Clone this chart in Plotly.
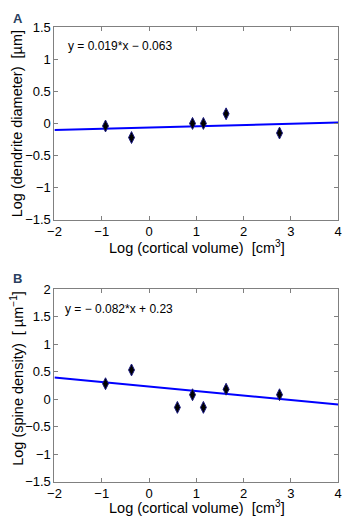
import plotly.graph_objects as go

# Panel A data
xa = [-0.92, -0.37, 0.92, 1.15, 1.63, 2.76]
ya = [-0.04, -0.22, 0.0, 0.0, 0.15, -0.15]
slope_a, icpt_a = 0.019, -0.063

# Panel B data
xb = [-0.92, -0.37, 0.6, 0.92, 1.15, 1.63, 2.76]
yb = [0.28, 0.53, -0.15, 0.08, -0.15, 0.18, 0.08]
slope_b, icpt_b = -0.082, 0.23

xfit = [-2, 4]

W, H = 347, 525
fig = go.Figure()

mk = dict(symbol="diamond-tall", size=8.5, color="black", line=dict(color="#1a1a80", width=1))
fig.add_trace(go.Scatter(x=xfit, y=[slope_a * v + icpt_a for v in xfit], mode="lines",
                         line=dict(color="#0000ff", width=2), xaxis="x", yaxis="y", showlegend=False))
fig.add_trace(go.Scatter(x=xa, y=ya, mode="markers", marker=mk, xaxis="x", yaxis="y", showlegend=False))
fig.add_trace(go.Scatter(x=xfit, y=[slope_b * v + icpt_b for v in xfit], mode="lines",
                         line=dict(color="#0000ff", width=2), xaxis="x2", yaxis="y2", showlegend=False))
fig.add_trace(go.Scatter(x=xb, y=yb, mode="markers", marker=mk, xaxis="x2", yaxis="y2", showlegend=False))

xl, xr = 49 / W, 342 / W
ya_top, ya_bot = 1 - 20.7 / H, 1 - 219 / H
yb_top, yb_bot = 1 - 290.3 / H, 1 - 488.7 / H

tickfont = dict(family="Liberation Sans, Arial", size=13, color="black")
common = dict(showline=True, linecolor="#808080", linewidth=1, mirror="ticks", ticks="inside",
              ticklen=4, tickcolor="#808080", showgrid=False, zeroline=False, tickfont=tickfont,
              ticklabeloverflow="allow")

fig.update_layout(
    width=W, height=H, margin=dict(l=0, r=0, t=0, b=0),
    plot_bgcolor="white", paper_bgcolor="white",
    xaxis=dict(domain=[xl, xr], anchor="y", range=[-2, 4], tickvals=[-2, -1, 0, 1, 2, 3, 4], **common),
    yaxis=dict(domain=[ya_bot, ya_top], anchor="x", range=[-1.5, 1.5], dtick=0.5, **common),
    xaxis2=dict(domain=[xl, xr], anchor="y2", range=[-2, 4], tickvals=[-2, -1, 0, 1, 2, 3, 4], **common),
    yaxis2=dict(domain=[yb_bot, yb_top], anchor="x2", range=[-1.5, 2], dtick=0.5, **common),
)

tf = dict(family="Liberation Sans, Arial", size=14.5, color="black")
ef = dict(family="Liberation Sans, Arial", size=12, color="black")
ann = [
    dict(text="<b>A</b>", x=4 / W, y=1 - 2 / H, xanchor="left", yanchor="top", font=dict(family="Liberation Sans, Arial", size=13)),
    dict(text="<b>B</b>", x=4 / W, y=1 - 270 / H, xanchor="left", yanchor="top", font=dict(family="Liberation Sans, Arial", size=13)),
    dict(text="Log (cortical volume)  [cm<sup>3</sup>]", x=196 / W, y=1 - 247 / H, xanchor="center", yanchor="middle", font=tf),
    dict(text="Log (cortical volume)  [cm<sup>3</sup>]", x=196 / W, y=1 - 515 / H, xanchor="center", yanchor="middle", font=tf),
    dict(text="Log (dendrite diameter)  [µm]", x=10 / W, y=1 - 120 / H, xanchor="center", yanchor="middle", textangle=-90, font=tf),
    dict(text="Log (spine density)  [ µm<sup>−1</sup>]", x=10 / W, y=1 - 382 / H, xanchor="center", yanchor="middle", textangle=-90, font=tf),
    dict(text="y = 0.019*x − 0.063", x=61 / W, y=1 - 40 / H, xanchor="left", yanchor="middle", font=ef),
    dict(text="y = − 0.082*x + 0.23", x=58 / W, y=1 - 311 / H, xanchor="left", yanchor="middle", font=ef),
]
for a in ann:
    a.update(xref="paper", yref="paper", showarrow=False)
fig.update_layout(annotations=ann)

fig.write_html("out.html", config={"displayModeBar": False},
               post_script="document.body.style.margin='0';document.body.style.overflow='hidden';")
